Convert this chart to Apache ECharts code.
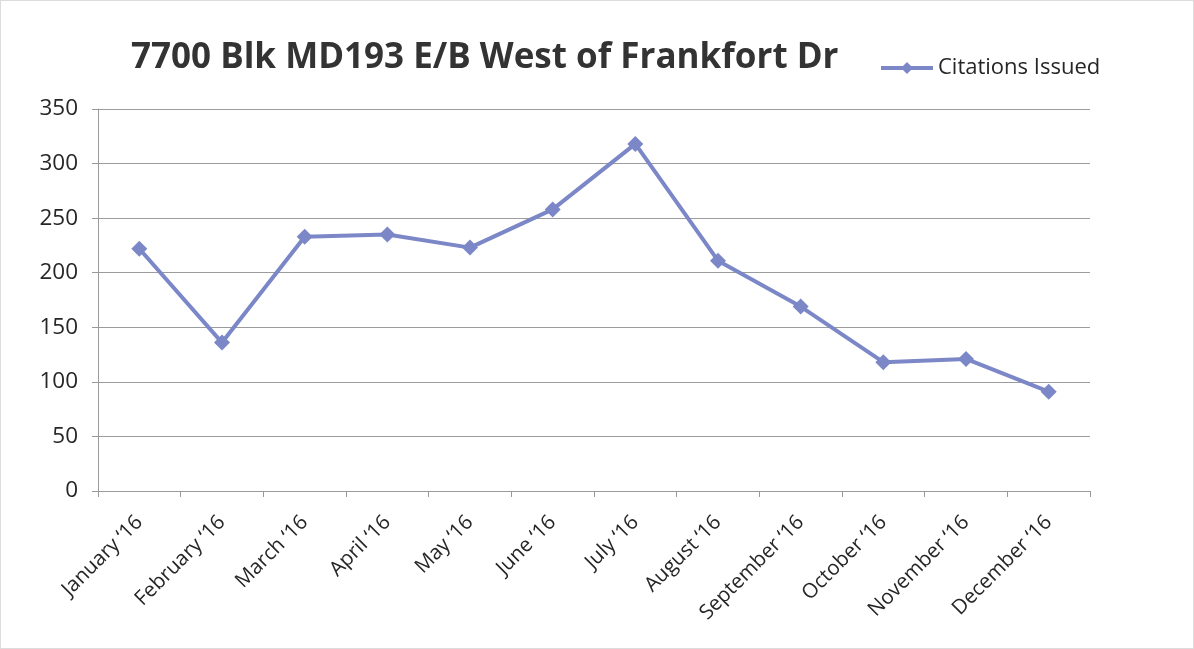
<!DOCTYPE html>
<html>
<head>
<meta charset="utf-8">
<script src="https://cdn.jsdelivr.net/npm/echarts@6/dist/echarts.min.js"></script>
<style>
  html, body { margin: 0; padding: 0; background: #fff; }
  #chart { width: 1194px; height: 649px; box-sizing: border-box; border: 1px solid #dcdcdc; }
</style>
</head>
<body>
<div id="chart"></div>
<script>
// Monthly citation counts for 2016
const titleText = '7700 Blk MD193 E/B West of Frankfort Dr';
const seriesName = 'Citations Issued';
const months = ['January \u201816', 'February \u201816', 'March \u201816', 'April \u201816',
  'May \u201816', 'June \u201816', 'July \u201816', 'August \u201816',
  'September \u201816', 'October \u201816', 'November \u201816', 'December \u201816'];
const citations = [222, 136, 233, 235, 223, 258, 318, 211, 169, 118, 121, 91];
const yTicks = { min: 0, max: 350, interval: 50 };

const lineColor = '#7b87c7';
const textColor = '#262626';
const font = '"Open Sans", "Liberation Sans", sans-serif';

const chart = echarts.init(document.getElementById('chart'));
chart.setOption({
  animation: false,
  title: {
    text: titleText,
    left: 130,
    top: 40,
    padding: 0,
    textStyle: { fontFamily: font, fontSize: 35, fontWeight: 'bold', color: '#333' }
  },
  legend: {
    data: [seriesName],
    left: 878,
    top: 56,
    padding: 0,
    itemWidth: 52,
    itemHeight: 15,
    lineStyle: { width: 4 },
    textStyle: { fontFamily: font, fontSize: 22, color: textColor }
  },
  grid: { left: 97, right: 103, top: 108, bottom: 157 },
  xAxis: {
    type: 'category',
    data: months,
    boundaryGap: true,
    axisLine: { lineStyle: { color: '#9a9a9a', width: 1 } },
    axisTick: { show: true, length: 6, lineStyle: { color: '#9a9a9a' } },
    axisLabel: {
      rotate: 45,
      margin: 28,
      padding: [14, 0, 0, 0],
      fontFamily: font,
      fontSize: 20.5,
      color: textColor
    }
  },
  yAxis: {
    type: 'value',
    min: yTicks.min,
    max: yTicks.max,
    interval: yTicks.interval,
    axisLine: { show: true, lineStyle: { color: '#9a9a9a', width: 1 } },
    axisTick: { show: true, length: 6, lineStyle: { color: '#9a9a9a' } },
    axisLabel: { fontFamily: font, fontSize: 22.5, color: textColor, margin: 20 },
    splitLine: { lineStyle: { color: '#9c9c9c', width: 1 } }
  },
  series: [{
    name: seriesName,
    type: 'line',
    data: citations,
    symbol: 'diamond',
    symbolSize: 16,
    lineStyle: { color: lineColor, width: 4 },
    itemStyle: { color: lineColor }
  }]
});
</script>
</body>
</html>
